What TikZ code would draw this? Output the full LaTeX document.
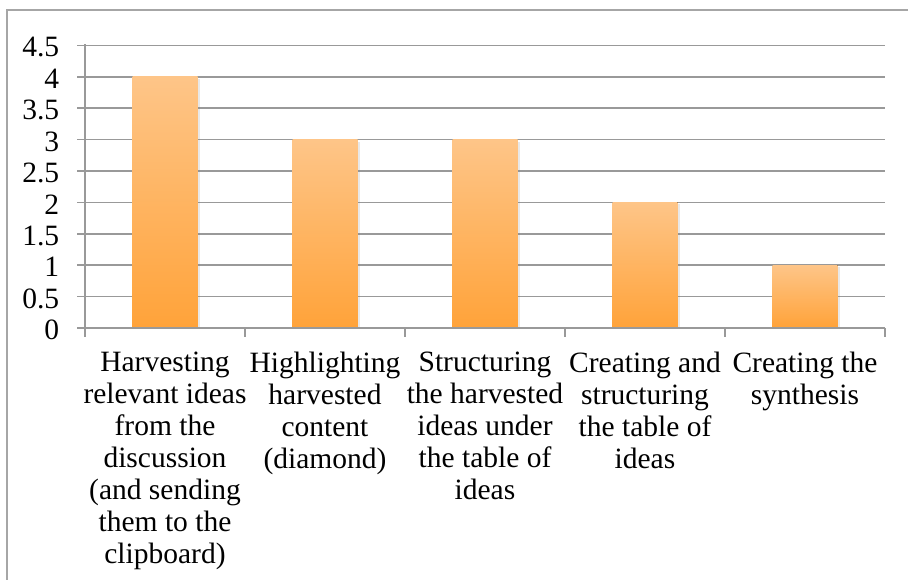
\documentclass[tikz,border=0pt]{standalone}
\usepackage{fontspec}
\setmainfont{Liberation Serif}
\usetikzlibrary{shadows}
\definecolor{barTop}{RGB}{254,197,136}
\definecolor{barBot}{RGB}{255,163,58}
\definecolor{gridGray}{RGB}{153,153,153}
\definecolor{frameGray}{RGB}{166,166,166}
\begin{document}
\begin{tikzpicture}[x=1pt,y=-1pt,line width=1.6pt,
        lbl/.style={font=\fontsize{29.5}{32}\selectfont,inner sep=0pt},
        bar/.style={top color=barTop,bottom color=barBot,draw=none,
            drop shadow={shadow xshift=2pt,shadow yshift=-2pt,opacity=.18}}]
            \useasboundingbox (0,0) rectangle (908,580);
            \draw[frameGray,line width=1.4pt] (908,10) -- (7,10) -- (7,580);
            \foreach \t [count=\k from 0] in {0,0.5,1,1.5,2,2.5,3,3.5,4,4.5}{
                \draw[gridGray] (77,{328-\k*31.4}) -- (885,{328-\k*31.4});
                \node[lbl,anchor=east] at (60,{330-\k*31.4})(val\k){\t};
            }
            \foreach \v [count=\i from 0] in {4,3,3,2,1}{
                \fill[bar] ({132.5+160*\i},327) rectangle ({197.5+160*\i},{328-\v*62.8});
            }
            %\draw[dashed] (85,44.5) rectangle (885,328);
            \draw[gridGray] (85,44.5) -- (85,337);
            \draw[gridGray] (77,328) -- (885,328);
            \foreach \i in {1,...,5}
                \draw[gridGray] ({85+160*\i},328) -- ({85+160*\i},337);
            \foreach \txt [count=\i from 0] in {
                    Harvesting\\relevant ideas\\from the\\discussion\\(and sending\\them to the\\clipboard),
                    Highlighting\\harvested\\content\\(diamond),
                    Structuring\\the harvested\\ideas under\\the table of\\ideas,
                    Creating and\\structuring\\the table of\\ideas,
                    Creating the\\synthesis}{
                \node[lbl,anchor=north,align=center] at ({165+160*\i},351)(cat\i){\txt};
            }
        \end{tikzpicture}
\end{document}
